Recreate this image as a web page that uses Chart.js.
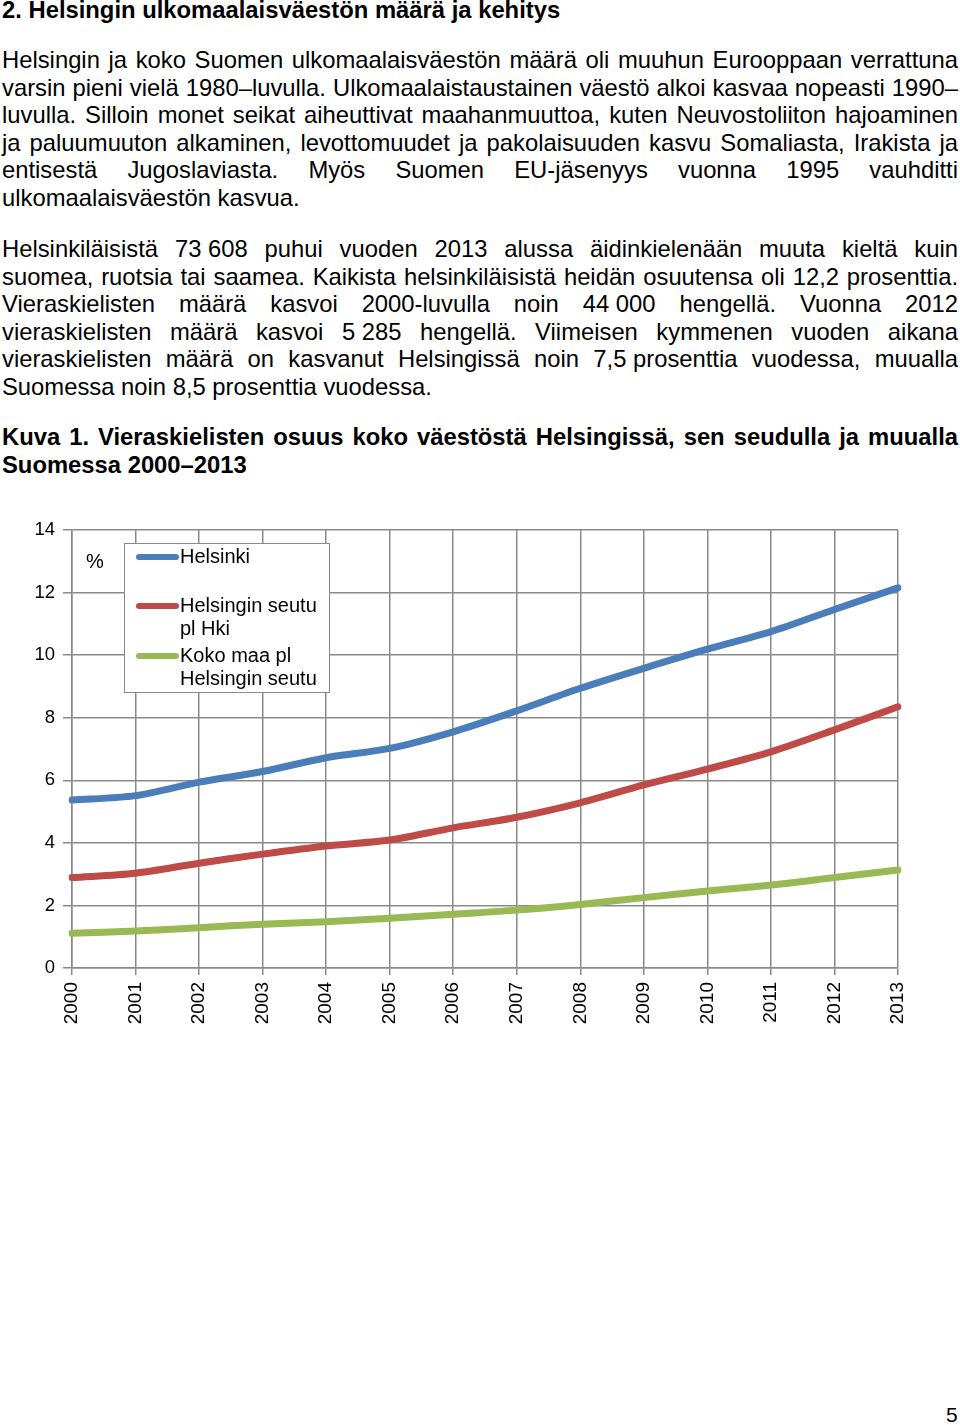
<!DOCTYPE html>
<html lang="fi">
<head>
<meta charset="utf-8">
<script src="https://cdn.jsdelivr.net/npm/chart.js@4"></script>
<style>
  html, body { margin: 0; padding: 0; background: #fff; }
  body { width: 960px; height: 1425px; position: relative; overflow: hidden;
         font-family: "Liberation Sans", Arial, Helvetica, sans-serif; color: #000; }
  .blk { position: absolute; left: 2px; width: 956px; font-size: 23.8px; line-height: 27.5px; }
  .j { text-align: justify; text-align-last: justify; }
  .l { text-align: left; }
  .b { font-weight: bold; }
  .nb { display: inline-block; white-space: nowrap; }
  #chartWrap { position: absolute; left: 0; top: 510px; width: 960px; height: 530px; }
  #pg { position: absolute; left: 946px; top: 1403px; font-size: 21px; }
</style>
</head>
<body>
<div class="blk b" style="top:-4px"><div class="l">2. Helsingin ulkomaalaisväestön määrä ja kehitys</div></div>

<div class="blk" style="top:46px">
  <div class="j">Helsingin ja koko Suomen ulkomaalaisväestön määrä oli muuhun Eurooppaan verrattuna</div>
  <div class="j">varsin pieni vielä 1980–luvulla. Ulkomaalaistaustainen väestö alkoi kasvaa nopeasti 1990–</div>
  <div class="j">luvulla. Silloin monet seikat aiheuttivat maahanmuuttoa, kuten Neuvostoliiton hajoaminen</div>
  <div class="j">ja paluumuuton alkaminen, levottomuudet ja pakolaisuuden kasvu Somaliasta, Irakista ja</div>
  <div class="j">entisestä Jugoslaviasta. Myös Suomen EU-jäsenyys vuonna 1995 vauhditti</div>
  <div class="l">ulkomaalaisväestön kasvua.</div>
</div>

<div class="blk" style="top:235px">
  <div class="j">Helsinkiläisistä <span class="nb">73 608</span> puhui vuoden 2013 alussa äidinkielenään muuta kieltä kuin</div>
  <div class="j">suomea, ruotsia tai saamea. Kaikista helsinkiläisistä heidän osuutensa oli 12,2 prosenttia.</div>
  <div class="j">Vieraskielisten määrä kasvoi 2000-luvulla noin <span class="nb">44 000</span> hengellä. Vuonna 2012</div>
  <div class="j">vieraskielisten määrä kasvoi <span class="nb">5 285</span> hengellä. Viimeisen kymmenen vuoden aikana</div>
  <div class="j">vieraskielisten määrä on kasvanut Helsingissä noin <span class="nb">7,5 prosenttia</span> vuodessa, muualla</div>
  <div class="l">Suomessa noin 8,5 prosenttia vuodessa.</div>
</div>

<div class="blk b" style="top:423px">
  <div class="j">Kuva 1. Vieraskielisten osuus koko väestöstä Helsingissä, sen seudulla ja muualla</div>
  <div class="l">Suomessa 2000–2013</div>
</div>

<div id="chartWrap"><canvas id="c" width="960" height="530"></canvas></div>
<div id="pg">5</div>

<script>
// ---- data ----
const years = ['2000','2001','2002','2003','2004','2005','2006','2007','2008','2009','2010','2011','2012','2013'];
const helsinki = [5.37, 5.51, 5.94, 6.28, 6.72, 7.02, 7.55, 8.22, 8.94, 9.58, 10.19, 10.75, 11.46, 12.15];
const seutu    = [2.89, 3.03, 3.35, 3.64, 3.90, 4.09, 4.48, 4.82, 5.28, 5.85, 6.36, 6.91, 7.61, 8.35];
const kokoMaa  = [1.11, 1.18, 1.29, 1.40, 1.48, 1.59, 1.72, 1.85, 2.03, 2.25, 2.46, 2.65, 2.89, 3.13];
const seriesLabels = [['Helsinki'], ['Helsingin seutu', 'pl Hki'], ['Koko maa pl', 'Helsingin seutu']];
const seriesColors = ['#4A7EBB', '#BE4B48', '#98B954'];
const yMin = 0, yMax = 14, yStep = 2;
const unitLabel = '%';

const FONT = '"Liberation Sans", Arial, Helvetica, sans-serif';
const GRID = '#8a8a8a';

const legendPlugin = {
  id: 'boxLegend',
  afterDraw(chart) {
    const ctx = chart.ctx;
    ctx.save();
    // unit label
    ctx.font = '20px ' + FONT;
    ctx.fillStyle = '#000';
    ctx.textBaseline = 'middle';
    ctx.textAlign = 'left';
    ctx.fillText(unitLabel, 86, 52);
    // legend box
    const bx = 124.5, by = 33.5, bw = 205, bh = 149;
    ctx.fillStyle = '#fff';
    ctx.fillRect(bx, by, bw, bh);
    ctx.strokeStyle = '#8a8a8a';
    ctx.lineWidth = 1;
    ctx.strokeRect(bx, by, bw, bh);
    const rows = [47, 96, 146];
    chart.data.datasets.forEach((ds, i) => {
      const y = rows[i];
      ctx.strokeStyle = ds.borderColor;
      ctx.lineWidth = 6;
      ctx.lineCap = 'round';
      ctx.beginPath();
      ctx.moveTo(139, y);
      ctx.lineTo(176, y);
      ctx.stroke();
      ctx.fillStyle = '#000';
      ctx.font = '20px ' + FONT;
      ctx.textBaseline = 'middle';
      const lines = seriesLabels[i];
      lines.forEach((t, k) => ctx.fillText(t, 180, y + k * 23));
    });
    ctx.restore();
  }
};

new Chart(document.getElementById('c'), {
  type: 'line',
  data: {
    labels: years,
    datasets: [
      { label: seriesLabels[0].join(' '), data: helsinki, borderColor: seriesColors[0] },
      { label: seriesLabels[1].join(' '), data: seutu, borderColor: seriesColors[1] },
      { label: seriesLabels[2].join(' '), data: kokoMaa, borderColor: seriesColors[2] }
    ].map(d => Object.assign(d, {
      borderWidth: 7, pointRadius: 0, pointHoverRadius: 0, tension: 0.3,
      fill: false, borderCapStyle: 'round', borderJoinStyle: 'round', backgroundColor: d.borderColor
    }))
  },
  options: {
    responsive: false,
    devicePixelRatio: 1,
    animation: false,
    events: [],
    layout: { padding: { top: 20, right: 62, left: 0, bottom: 0 } },
    plugins: { legend: { display: false }, tooltip: { enabled: false }, title: { display: false } },
    scales: {
      x: {
        offset: false,
        grid: { color: GRID, lineWidth: 1.5, tickLength: 7, offset: false, drawTicks: true },
        border: { color: GRID, width: 1.5 },
        ticks: { color: '#000', font: { family: FONT, size: 19 }, minRotation: 90, maxRotation: 90, padding: 7, autoSkip: false },
        afterFit(s) { s.height = 72; }
      },
      y: {
        min: yMin, max: yMax,
        grid: { color: GRID, lineWidth: 1.5, tickLength: 9 },
        border: { color: GRID, width: 1.5 },
        ticks: { stepSize: yStep, color: '#000', font: { family: FONT, size: 18.5 }, padding: 8 },
        afterFit(s) { s.width = 72; }
      }
    }
  },
  plugins: [legendPlugin]
});
</script>
</body>
</html>
